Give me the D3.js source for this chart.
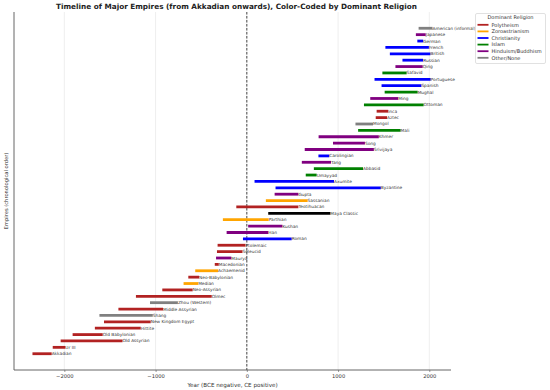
<!DOCTYPE html>
<html><head><meta charset="utf-8">
<script src="https://cdn.jsdelivr.net/npm/d3@7/dist/d3.min.js"></script>
<style>body{margin:0;background:#fff}svg{display:block}text{font-family:"DejaVu Sans",sans-serif}</style>
</head><body><svg id="c" width="550" height="390"></svg>
<script>
const empires = ["Akkadian","Ur III","Old Assyrian","Old Babylonian","Hittite","New Kingdom Egypt","Shang","Middle Assyrian","Zhou (Western)","Olmec","Neo-Assyrian","Median","Neo-Babylonian","Achaemenid","Macedonian","Maurya","Seleucid","Ptolemaic","Roman","Han","Kushan","Parthian","Maya Classic","Teotihuacan","Sassanian","Gupta","Byzantine","Axumite","Umayyad","Abbasid","Tang","Carolingian","Srivijaya","Song","Khmer","Mali","Mongol","Aztec","Inca","Ottoman","Ming","Mughal","Spanish","Portuguese","Safavid","Qing","Russian","British","French","German","Japanese","American (informal)"];
const starts = [-2334,-2112,-2025,-1894,-1650,-1550,-1600,-1392,-1046,-1200,-911,-678,-626,-550,-336,-322,-312,-305,-27,-206,30,-247,250,-100,224,320,330,100,661,750,618,800,650,960,802,1235,1206,1428,1438,1299,1368,1526,1492,1415,1501,1644,1721,1583,1534,1884,1868,1898];
const ends = [-2154,-2004,-1378,-1595,-1178,-1069,-1046,-934,-771,-400,-609,-549,-539,-330,-323,-185,-63,-30,476,220,375,224,900,550,651,550,1453,940,750,1258,907,888,1377,1279,1431,1670,1368,1521,1533,1922,1644,1857,1898,1999,1736,1912,1917,1997,1980,1918,1945,2020];
const religions = ["Polytheism","Polytheism","Polytheism","Polytheism","Polytheism","Polytheism","Other/None","Polytheism","Other/None","Polytheism","Polytheism","Zoroastrianism","Polytheism","Zoroastrianism","Polytheism","Hinduism/Buddhism","Polytheism","Polytheism","Christianity","Hinduism/Buddhism","Hinduism/Buddhism","Zoroastrianism","Maya","Polytheism","Zoroastrianism","Hinduism/Buddhism","Christianity","Christianity","Islam","Islam","Hinduism/Buddhism","Christianity","Hinduism/Buddhism","Hinduism/Buddhism","Hinduism/Buddhism","Islam","Other/None","Polytheism","Polytheism","Islam","Hinduism/Buddhism","Islam","Christianity","Christianity","Islam","Hinduism/Buddhism","Christianity","Christianity","Christianity","Christianity","Hinduism/Buddhism","Other/None"];
const legendNames = ["Polytheism","Zoroastrianism","Christianity","Islam","Hinduism/Buddhism","Other/None"];
const legendColors = ["#b22222","#ffa500","#0000ff","#008000","#800080","#808080"];
const xTicks = [-2000,-1000,0,1000,2000];

const color = d3.scaleOrdinal().domain(legendNames).range(legendColors).unknown("#000000");
const svg = d3.select("#c");
const L=14,R=451,T=12,B=370;
const xmin=d3.min(starts), xmax=d3.max(ends), pad=(xmax-xmin)*0.05;
const x = d3.scaleLinear().domain([xmin-pad,xmax+pad]).range([L,R]);
const n = empires.length, yp=(n-1)*0.05;
const y = d3.scaleLinear().domain([-yp,n-1+yp]).range([B,T]);

// grid
svg.append("g").selectAll("line").data(xTicks).join("line")
  .attr("x1",d=>x(d)).attr("x2",d=>x(d)).attr("y1",T).attr("y2",B)
  .attr("stroke","#e3e3e3").attr("stroke-width",0.6);

// zero line
svg.append("line").attr("x1",x(0)).attr("x2",x(0)).attr("y1",T).attr("y2",B)
  .attr("stroke","#000").attr("stroke-width",0.7).attr("stroke-dasharray","2.5,1.5");

// bars
const data = empires.map((e,i)=>({e,s:starts[i],t:ends[i],r:religions[i],i}));
svg.append("g").selectAll("line").data(data).join("line")
  .attr("x1",d=>x(d.s)).attr("x2",d=>x(d.t)).attr("y1",d=>y(d.i)).attr("y2",d=>y(d.i))
  .attr("stroke",d=>color(d.r)).attr("stroke-width",2.8).attr("stroke-linecap","square");
svg.append("g").selectAll("text").data(data).join("text")
  .attr("x",d=>x(d.t)+1.4).attr("y",d=>y(d.i)).attr("dy","0.35em")
  .attr("font-size",4.3).attr("fill","#333").text(d=>d.e);

// axes
const xa = svg.append("g").attr("transform",`translate(0,${B})`)
  .call(d3.axisBottom(x).tickValues(xTicks).tickSize(2).tickPadding(2).tickFormat(d=>d<0?"\u2212"+Math.abs(d):d));
xa.select(".domain").remove();
xa.selectAll(".tick line").attr("stroke","#555").attr("stroke-width",0.6);
xa.selectAll("text").attr("font-size",5.2).attr("fill","#333").attr("font-family","DejaVu Sans");
svg.append("line").attr("x1",L).attr("x2",R).attr("y1",B).attr("y2",B).attr("stroke","#555").attr("stroke-width",0.9);
svg.append("line").attr("x1",L).attr("x2",L).attr("y1",T).attr("y2",B).attr("stroke","#555").attr("stroke-width",0.9);

svg.append("text").attr("x",(L+R)/2).attr("y",387).attr("text-anchor","middle").attr("font-size",5.6).attr("fill","#333").text("Year (BCE negative, CE positive)");
svg.append("text").attr("transform",`translate(7.5,${(T+B)/2}) rotate(-90)`).attr("text-anchor","middle").attr("font-size",5.2).attr("fill","#333").text("Empires (chronological order)");
svg.append("text").attr("x",(L+R)/2+4).attr("y",9).attr("text-anchor","middle").attr("font-size",7.3).attr("font-weight","bold").attr("fill","#222").text("Timeline of Major Empires (from Akkadian onwards), Color-Coded by Dominant Religion");

// legend
const lg = svg.append("g");
lg.append("rect").attr("x",475.5).attr("y",13.5).attr("width",70).attr("height",50).attr("rx",1.5)
  .attr("fill","#fff").attr("stroke","#ccc").attr("stroke-width",0.6);
lg.append("text").attr("x",510.5).attr("y",19.2).attr("text-anchor","middle").attr("font-size",5).attr("fill","#333").text("Dominant Religion");
legendNames.forEach((nm,i)=>{
  const yy=24.8+i*6.6;
  lg.append("line").attr("x1",477.5).attr("x2",488.5).attr("y1",yy).attr("y2",yy).attr("stroke",legendColors[i]).attr("stroke-width",1.8);
  lg.append("text").attr("x",491.5).attr("y",yy).attr("dy","0.35em").attr("font-size",5).attr("fill","#333").text(nm);
});
</script></body></html>
